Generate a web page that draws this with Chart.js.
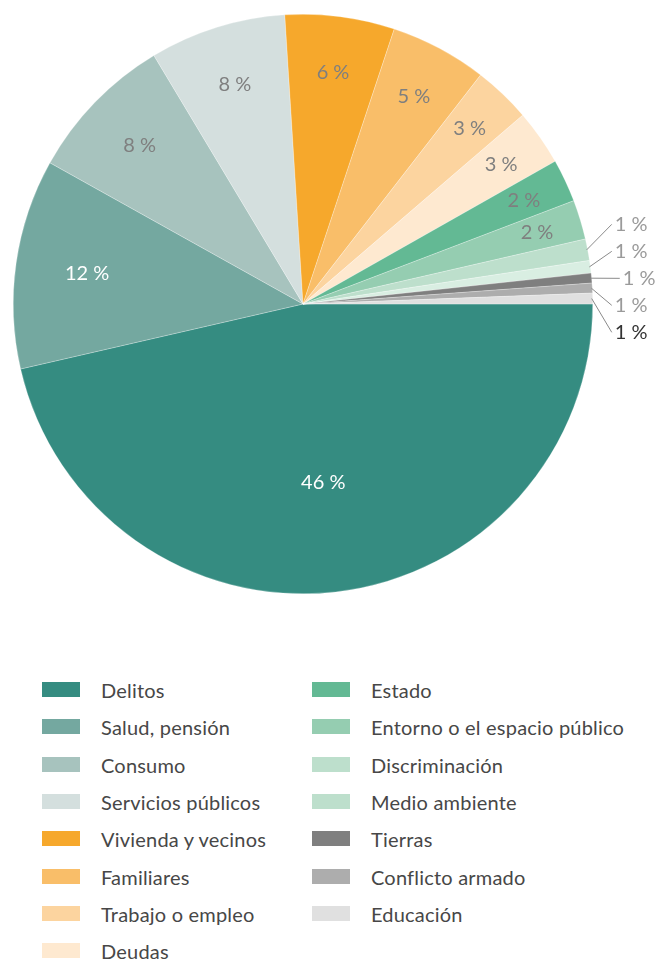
<!DOCTYPE html>
<html>
<head>
<meta charset="utf-8">
<script src="https://cdn.jsdelivr.net/npm/chart.js@4.4.1/dist/chart.umd.min.js"></script>
<style>
  html, body { margin: 0; padding: 0; background: #fff; }
  #wrap { position: relative; width: 655px; height: 960px; overflow: hidden; }
  #pie { position: absolute; left: 0; top: 0; }
  .key { position: absolute; font-family: Lato, "Noto Sans", sans-serif; font-size: 20px; letter-spacing: 0.2px; color: #474747; line-height: 20px; white-space: nowrap; }
  .key i { position: absolute; left: 0; top: 2px; width: 38px; height: 15px; }
  .key span { position: absolute; left: 59px; top: 0; }
</style>
</head>
<body>
<div id="wrap">
  <canvas id="pie" width="655" height="610"></canvas>
  <div id="legend"></div>
</div>
<script>
// Share of cases by topic (percent)
const categories = [
  "Delitos", "Salud, pensión", "Consumo", "Servicios públicos",
  "Vivienda y vecinos", "Familiares", "Trabajo o empleo", "Deudas",
  "Estado", "Entorno o el espacio público", "Discriminación",
  "Medio ambiente", "Tierras", "Conflicto armado", "Educación"
];
const shares = [46.4, 11.7, 8.3, 7.6, 6.1, 5.4, 3.2, 3.1, 2.4, 2.2, 1.2, 0.7, 0.55, 0.55, 0.6];
const sliceColors = [
  "#358c81", "#74a8a0", "#a7c3be", "#d4dfde",
  "#f6a82c", "#f9be69", "#fcd49f", "#fee9d0",
  "#63b994", "#95cdb1", "#bddfcc", "#d9eee2",
  "#7f7f7f", "#adadad", "#e0e0e0"
];
const legendColors = [
  "#358c81", "#74a8a0", "#a7c3be", "#d4dfde",
  "#f6a82c", "#f9be69", "#fcd49f", "#fee9d0",
  "#63b994", "#95cdb1", "#bddfcc", "#bddfcc",
  "#7f7f7f", "#adadad", "#e0e0e0"
];
const labelInk = [
  "#ffffff", "#ffffff", "#7f7f7f", "#7f7f7f",
  "#7f7f7f", "#7f7f7f", "#7f7f7f", "#7f7f7f",
  "#7f7f7f", "#7f7f7f", "#9a9a9a", "#9a9a9a",
  "#9a9a9a", "#9a9a9a", "#333333"
];

const FONT = 'Lato, "Noto Sans", sans-serif';
const pctText = v => Math.round(v) + " %";

// Percent labels: inside the wedge for larger slices, stacked with leader lines for the tiny ones
const sliceLabels = {
  id: "sliceLabels",
  afterDatasetsDraw(chart) {
    const ctx = chart.ctx;
    const meta = chart.getDatasetMeta(0);
    const data = chart.data.datasets[0].data;
    const total = data.reduce((a, b) => a + b, 0);
    ctx.save();
    ctx.font = "20px " + FONT;
    ctx.textBaseline = "middle";
    const outside = [];
    meta.data.forEach((arc, i) => {
      const pct = data[i] / total * 100;
      const p = arc.getProps(["x", "y", "startAngle", "endAngle", "outerRadius"], true);
      const mid = (p.startAngle + p.endAngle) / 2;
      if (pct >= 1.5) {
        const inset = Math.min(110, 39 + 2.8 * pct);
        const d = p.outerRadius - inset;
        ctx.fillStyle = labelInk[i];
        ctx.textAlign = "center";
        ctx.fillText(pctText(data[i]), p.x + Math.cos(mid) * d, p.y + Math.sin(mid) * d);
      } else {
        outside.push({ i, p, mid,
          sx: p.x + Math.cos(mid) * (p.outerRadius - 1),
          sy: p.y + Math.sin(mid) * (p.outerRadius - 1) });
      }
    });
    if (outside.length) {
      const gap = 27;
      const centerY = outside.reduce((a, o) => a + o.sy, 0) / outside.length + 2;
      outside.forEach((o, k) => {
        const ly = centerY + (k - (outside.length - 1) / 2) * gap;
        let ex = o.p.x + o.p.outerRadius + 19;
        if (Math.abs(ly - o.sy) < 3) ex += 8;
        ctx.strokeStyle = "#8a8a8a";
        ctx.lineWidth = 1;
        ctx.beginPath();
        ctx.moveTo(o.sx, o.sy);
        ctx.lineTo(ex, ly);
        ctx.stroke();
        ctx.fillStyle = labelInk[o.i];
        ctx.textAlign = "left";
        ctx.fillText(pctText(data[o.i]), ex + 3, ly);
      });
    }
    ctx.restore();
  }
};

new Chart(document.getElementById("pie"), {
  type: "pie",
  data: {
    labels: categories,
    datasets: [{
      data: shares,
      backgroundColor: sliceColors,
      borderColor: "rgba(255,255,255,0.5)",
      borderWidth: 0.5
    }]
  },
  options: {
    responsive: false,
    animation: false,
    rotation: 90,
    layout: { padding: { left: 13, right: 62, top: 14, bottom: 16 } },
    plugins: { legend: { display: false }, tooltip: { enabled: false } }
  },
  plugins: [sliceLabels]
});

// Two-column key: first eight topics on the left, the rest on the right
const legend = document.getElementById("legend");
categories.forEach((name, i) => {
  const col = i < 8 ? 0 : 1;
  const row = i < 8 ? i : i - 8;
  const el = document.createElement("div");
  el.className = "key";
  el.style.left = (col === 0 ? 42 : 312) + "px";
  el.style.top = (680 + row * 37.3) + "px";
  el.innerHTML = '<i style="background:' + legendColors[i] + '"></i><span>' + name + '</span>';
  legend.appendChild(el);
});
</script>
</body>
</html>
